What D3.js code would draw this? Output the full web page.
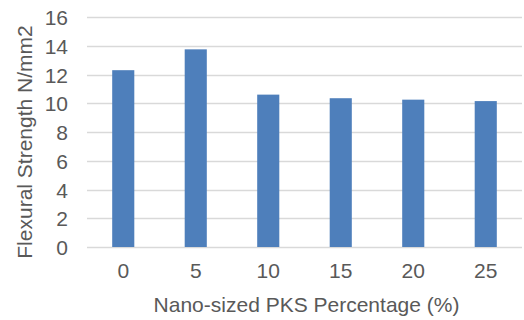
<!DOCTYPE html>
<html>
<head>
<meta charset="utf-8">
<script src="https://cdn.jsdelivr.net/npm/d3@7"></script>
<style>
  html, body { margin: 0; padding: 0; background: #fff; }
  svg { display: block; font-family: "Liberation Sans", Arial, sans-serif; }
</style>
</head>
<body>
<svg id="chart" width="524" height="320"></svg>
<script>
// Flexural strength by nano-sized PKS percentage
const categories = ["0", "5", "10", "15", "20", "25"];
const strength = [12.3, 13.75, 10.6, 10.35, 10.25, 10.15];
const yTicks = [0, 2, 4, 6, 8, 10, 12, 14, 16];
const xTitle = "Nano-sized PKS Percentage (%)";
const yTitle = "Flexural Strength N/mm2";

const svg = d3.select("#chart");
const margin = { left: 87, right: 2, top: 17, bottom: 73 };
const W = 524, H = 320;
const fontSize = 21;

const x = d3.scaleBand()
  .domain(categories)
  .range([margin.left, W - margin.right])
  .padding(0);

const y = d3.scaleLinear()
  .domain([0, 16])
  .range([H - margin.bottom, margin.top]);

const textColor = "#595959";
const gridColor = "#d9d9d9";

// horizontal gridlines
svg.append("g")
  .selectAll("line")
  .data(yTicks)
  .join("line")
  .attr("x1", margin.left)
  .attr("x2", W - margin.right)
  .attr("y1", d => Math.round(y(d)) + 0.5)
  .attr("y2", d => Math.round(y(d)) + 0.5)
  .attr("stroke", gridColor)
  .attr("stroke-width", 1.5);

// y axis tick labels
const yAxis = d3.axisLeft(y).tickValues(yTicks).tickSize(0).tickPadding(0);
svg.append("g")
  .attr("transform", `translate(${margin.left - 19},1)`)
  .call(yAxis)
  .call(g => g.select(".domain").remove())
  .call(g => g.selectAll("text")
    .attr("fill", textColor)
    .attr("font-size", fontSize)
    .attr("font-family", "Liberation Sans, Arial, sans-serif"));

// bars
const barW = x.bandwidth() * 0.305;
svg.append("g")
  .selectAll("rect")
  .data(strength)
  .join("rect")
  .attr("x", (d, i) => x(categories[i]) + (x.bandwidth() - barW) / 2)
  .attr("y", d => y(d))
  .attr("width", barW)
  .attr("height", d => y(0) - y(d))
  .attr("fill", "#4e7fbb");

// x axis tick labels
const xAxis = d3.axisBottom(x).tickSize(0).tickPadding(0);
svg.append("g")
  .attr("transform", `translate(0,${y(0) + 16})`)
  .call(xAxis)
  .call(g => g.select(".domain").remove())
  .call(g => g.selectAll("text")
    .attr("fill", textColor)
    .attr("font-size", fontSize)
    .attr("font-family", "Liberation Sans, Arial, sans-serif"));

// axis titles
svg.append("text")
  .attr("x", (margin.left + W - margin.right) / 2 + 2)
  .attr("y", 312)
  .attr("text-anchor", "middle")
  .attr("fill", textColor)
  .attr("font-size", fontSize)
  .text(xTitle);

svg.append("text")
  .attr("transform", `translate(32,142) rotate(-90)`)
  .attr("text-anchor", "middle")
  .attr("fill", textColor)
  .attr("font-size", fontSize)
  .text(yTitle);
</script>
</body>
</html>
